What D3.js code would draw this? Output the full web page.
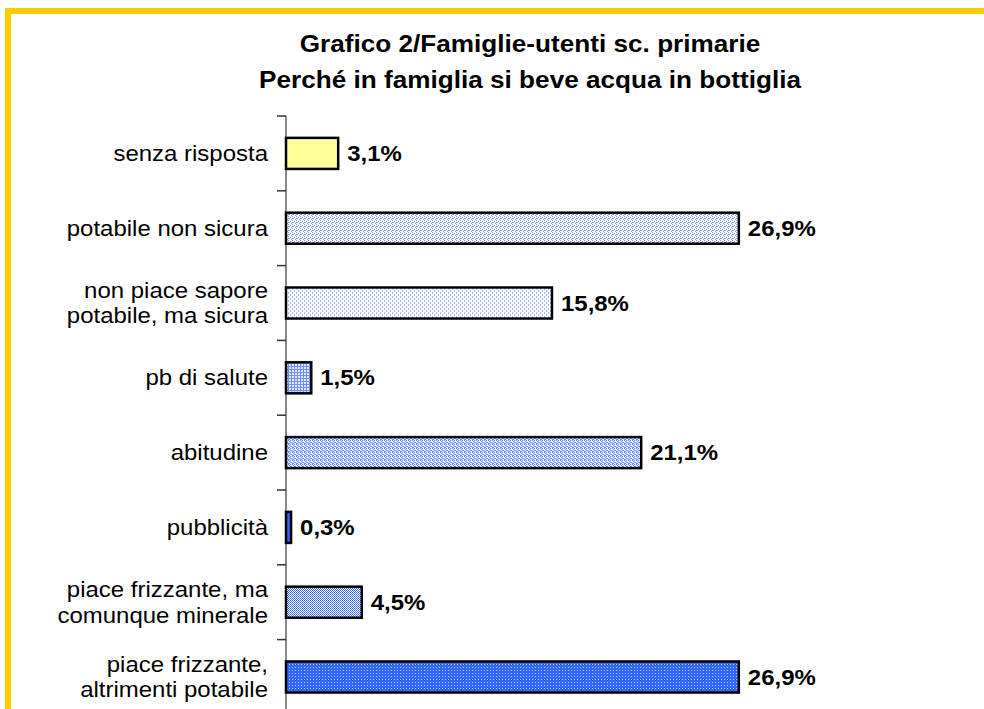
<!DOCTYPE html>
<html>
<head>
<meta charset="utf-8">
<script src="https://cdn.jsdelivr.net/npm/d3@7"></script>
<style>
  body { margin: 0; background: #fff; }
  svg { display: block; font-family: Arial, "Liberation Sans", sans-serif; }
</style>
</head>
<body>
<svg id="chart" width="984" height="709"></svg>
<script>
const categories = [
    ["senza risposta"],
    ["potabile non sicura"],
    ["non piace sapore", "potabile, ma sicura"],
    ["pb di salute"],
    ["abitudine"],
    ["pubblicità"],
    ["piace frizzante, ma", "comunque minerale"],
    ["piace frizzante,", "altrimenti potabile"]
];
const values = [3.1, 26.9, 15.8, 1.5, 21.1, 0.3, 4.5, 26.9];
const valueLabels = ["3,1%", "26,9%", "15,8%", "1,5%", "21,1%", "0,3%", "4,5%", "26,9%"];
const fills = ["yellow", "dots", "sparse", "grid", "dense", "solid", "hatch", "bluedots"];
const titleLines = ["Grafico 2/Famiglie-utenti sc. primarie", "Perché in famiglia si beve acqua in bottiglia"];

const svg = d3.select("#chart");
const blue = "#3366ff";
const stretch = 1.09; // the original picture is a bit wider than tall

// patterns
const defs = svg.append("defs");
function pattern(id, size, bg, draw) {
    const p = defs.append("pattern").attr("id", id)
        .attr("patternUnits", "userSpaceOnUse")
        .attr("width", size).attr("height", size);
    p.append("rect").attr("width", size).attr("height", size).attr("fill", bg);
    draw(p);
}
pattern("dots", 4, "#fff", p => {
    [[0, 0], [2, 1], [1, 2], [3, 3], [0, 2]].forEach(([x, y]) =>
        p.append("rect").attr("x", x).attr("y", y).attr("width", 1).attr("height", 1).attr("fill", "#7f9bff"));
});
pattern("sparse", 4, "#fff", p => {
    p.append("rect").attr("x", 0).attr("y", 0).attr("width", 1).attr("height", 2).attr("fill", "#9fb4ff");
    p.append("rect").attr("x", 2).attr("y", 2).attr("width", 1).attr("height", 2).attr("fill", "#9fb4ff");
});
pattern("grid", 3, "#dfe6ff", p => {
    p.append("rect").attr("x", 0).attr("y", 0).attr("width", 1).attr("height", 3).attr("fill", "#6f8dff");
    p.append("rect").attr("x", 0).attr("y", 0).attr("width", 3).attr("height", 1).attr("fill", "#6f8dff");
});
pattern("dense", 4, "#e6ecff", p => {
    [[0, 0], [2, 0], [1, 1], [3, 2], [0, 3], [2, 2], [1, 3]].forEach(([x, y]) =>
        p.append("rect").attr("x", x).attr("y", y).attr("width", 1).attr("height", 1).attr("fill", "#6a8bff"));
});
pattern("hatch", 2, "#fff", p => {
    p.append("rect").attr("x", 0).attr("y", 0).attr("width", 1).attr("height", 1).attr("fill", blue);
    p.append("rect").attr("x", 1).attr("y", 1).attr("width", 1).attr("height", 1).attr("fill", "#5577ff");
});
pattern("bluedots", 3, blue, p => {
    p.append("rect").attr("x", 1).attr("y", 1).attr("width", 1).attr("height", 1).attr("fill", "#b8c8ff");
});
const fillOf = f => f === "yellow" ? "#ffff99" : f === "solid" ? blue : `url(#${f})`;
const at = (px, py) => `translate(${px},${py}) scale(${stretch},1)`;

// yellow frame
svg.append("rect").attr("x", 5).attr("y", 8).attr("width", 984).attr("height", 6).attr("fill", "#ffcc00");
svg.append("rect").attr("x", 5).attr("y", 8).attr("width", 6).attr("height", 709).attr("fill", "#ffcc00");

// title
svg.append("g").selectAll("text")
    .data(titleLines)
    .join("text")
    .attr("transform", (d, i) => at(530, 52 + i * 36))
    .attr("text-anchor", "middle")
    .attr("font-weight", "bold")
    .attr("font-size", 24)
    .text(d => d);

const plotLeft = 286, plotTop = 116, step = 74.8;
const x = d3.scaleLinear().domain([0, 30]).range([plotLeft, plotLeft + 505]);
const y = d3.scaleBand()
    .domain(d3.range(categories.length))
    .range([plotTop, plotTop + step * categories.length])
    .paddingInner(0.585)
    .paddingOuter(0.2925);
const gap = (y.step() - y.bandwidth()) / 2;

// axis line and ticks at band boundaries
const bounds = d3.range(categories.length + 1).map(i => i < categories.length ? y(i) - gap : y(i - 1) + y.bandwidth() + gap);
svg.append("line").attr("x1", plotLeft).attr("x2", plotLeft).attr("y1", plotTop).attr("y2", bounds[bounds.length - 1])
    .attr("stroke", "#888").attr("stroke-width", 2);
svg.append("g").selectAll("line")
    .data(bounds)
    .join("line")
    .attr("x1", plotLeft - 9).attr("x2", plotLeft)
    .attr("y1", d => d).attr("y2", d => d)
    .attr("stroke", "#333").attr("stroke-width", 1.5);

// bars
svg.append("g").selectAll("rect")
    .data(values)
    .join("rect")
    .attr("x", x(0))
    .attr("y", (d, i) => y(i))
    .attr("width", d => x(d) - x(0))
    .attr("height", y.bandwidth())
    .attr("fill", (d, i) => fillOf(fills[i]))
    .attr("stroke", "#000")
    .attr("stroke-width", 2.5);

// value labels
svg.append("g").selectAll("text")
    .data(values)
    .join("text")
    .attr("transform", (d, i) => at(x(d) + 9, y(i) + y.bandwidth() / 2 + 7.5))
    .attr("font-weight", "bold")
    .attr("font-size", 22)
    .text((d, i) => valueLabels[i]);

// category labels
const lab = svg.append("g").selectAll("text")
    .data(categories)
    .join("text")
    .attr("transform", (d, i) => at(268, y(i) + y.bandwidth() / 2 + 7.5 - (d.length - 1) * 13))
    .attr("text-anchor", "end")
    .attr("font-size", 22);
lab.selectAll("tspan")
    .data(d => d)
    .join("tspan")
    .attr("x", 0)
    .attr("dy", (d, i) => i ? 26 : 0)
    .text(d => d);
</script>
</body>
</html>
